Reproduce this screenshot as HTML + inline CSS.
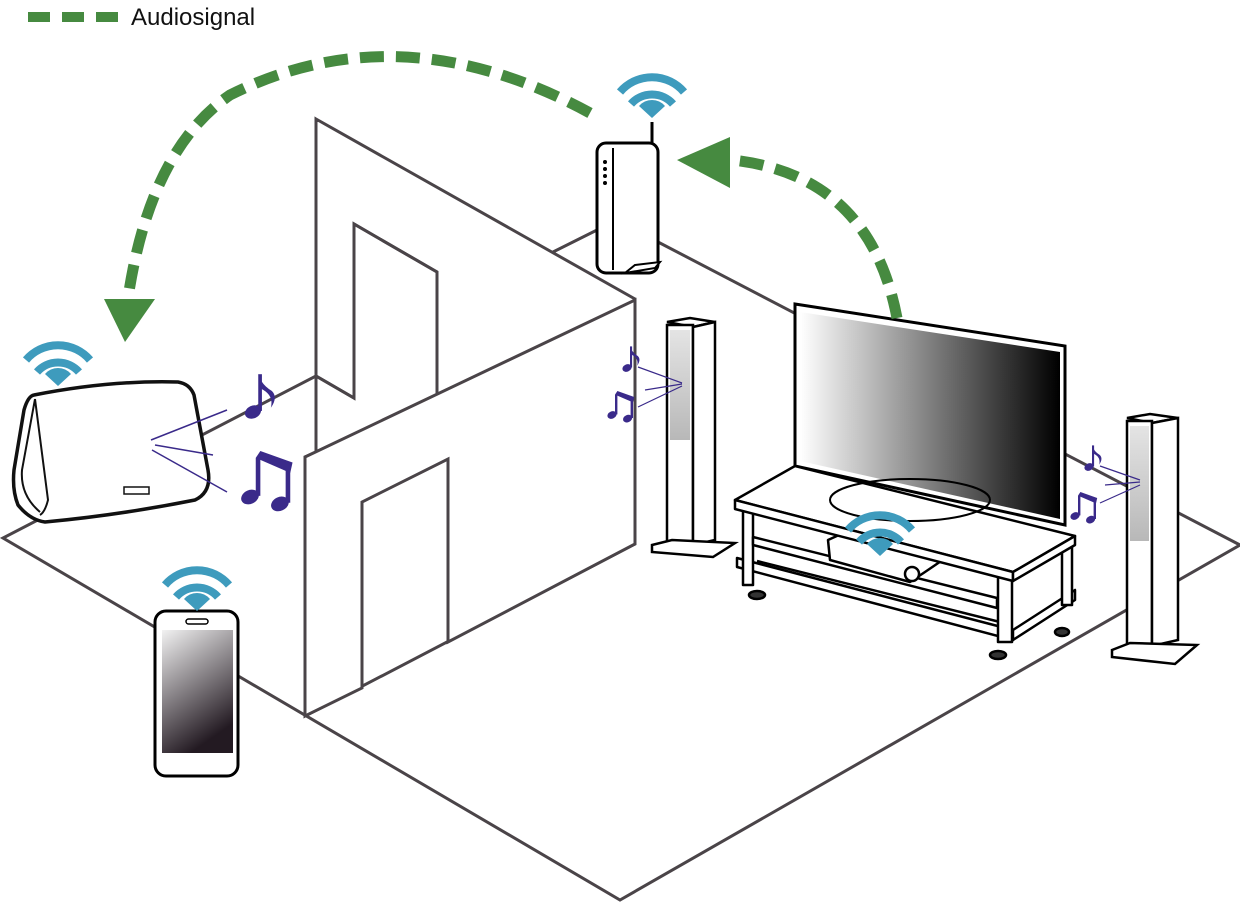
<!DOCTYPE html>
<html><head><meta charset="utf-8"><style>
html,body{margin:0;padding:0;background:#fff;width:1240px;height:902px;overflow:hidden}
svg{display:block}
</style></head><body>
<svg width="1240" height="902" viewBox="0 0 1240 902" xmlns="http://www.w3.org/2000/svg">
<defs>
<linearGradient id="tv" x1="0" x2="1" y1="0" y2="0"><stop offset="0" stop-color="#fff"/><stop offset="1" stop-color="#000"/></linearGradient>
<linearGradient id="ph" x1="0" x2="0.4" y1="0" y2="1"><stop offset="0" stop-color="#f2f2f2"/><stop offset="1" stop-color="#231a22"/></linearGradient>
<linearGradient id="sp" x1="0" x2="0" y1="0" y2="1"><stop offset="0" stop-color="#e4e4e4"/><stop offset="1" stop-color="#b8b8b8"/></linearGradient>
<g id="wifi">
<path d="M-32,-26 A42,42 0 0 1 32,-26" fill="none" stroke="#3e9bbd" stroke-width="8"/>
<path d="M-21,-14 A28,28 0 0 1 21,-14" fill="none" stroke="#3e9bbd" stroke-width="8"/>
<path d="M0,0 L-13,-12 A17,17 0 0 1 13,-12 Z" fill="#3e9bbd"/>
</g>
<g id="n1" fill="#3a2a8a">
<ellipse cx="0" cy="0" rx="8" ry="6" transform="rotate(-25)"/>
<rect x="5" y="-36" width="3.5" height="35"/>
<path d="M5,-36 Q8,-26 18,-20 Q24,-14 17,-4 Q20,-16 8,-22 Z"/>
</g>
<g id="n2" fill="#3a2a8a">
<ellipse cx="0" cy="0" rx="8" ry="6" transform="rotate(-25)"/>
<ellipse cx="26" cy="6" rx="8" ry="6" transform="rotate(-25 26 6)"/>
<rect x="5" y="-34" width="4" height="33"/>
<rect x="31" y="-27" width="4" height="32"/>
<polygon points="5,-34 9,-40 37,-30 35,-21"/>
</g>
</defs>

<!-- legend -->
<g stroke="#468a40" stroke-width="10">
<line x1="28" y1="17" x2="50" y2="17"/><line x1="62" y1="17" x2="84" y2="17"/><line x1="96" y1="17" x2="118" y2="17"/>
</g>
<text x="131" y="25" font-family="Liberation Sans, sans-serif" font-size="24" fill="#111">Audiosignal</text>

<!-- floor -->
<g fill="none" stroke="#4a4448" stroke-width="3" stroke-linejoin="miter">
<polyline points="316,376 3,538 620,900 1240,545"/>
<line x1="553" y1="252" x2="597" y2="230"/>
<line x1="658" y1="242" x2="1240" y2="545"/>
</g>
<!-- wall -->
<g fill="#fff" stroke="#4a4448" stroke-width="3" stroke-linejoin="miter">
<polygon points="316,119 635,299 635,544 305,716 305,457 316,452 316,376 354,398 354,224 437,272 437,395 316,452"/>
<polyline points="316,119 316,376 354,398 354,224 437,272 437,395" fill="none"/>
<polygon points="305,457 635,300 635,544 448,642 448,459 362,502 362,688 305,716" fill="#fff"/>
</g>

<!-- router -->
<line x1="652" y1="122" x2="652" y2="160" stroke="#000" stroke-width="3"/>
<rect x="597" y="143" width="61" height="130" rx="9" fill="#fff" stroke="#000" stroke-width="3"/>
<line x1="613" y1="148" x2="613" y2="270" stroke="#000" stroke-width="2"/>
<g fill="#000"><circle cx="605" cy="162" r="2"/><circle cx="605" cy="169" r="2"/><circle cx="605" cy="176" r="2"/><circle cx="605" cy="183" r="2"/></g>
<path d="M625,273 L655,268 L660,262 L635,265 Z" fill="#fff" stroke="#000" stroke-width="2"/>
<use href="#wifi" x="652" y="118"/>

<!-- left tower speaker -->
<polygon points="667,322 690,318 715,322 693,327" fill="#fff" stroke="#000" stroke-width="2.5"/>
<rect x="667" y="325" width="26" height="220" fill="#fff" stroke="#000" stroke-width="2.5"/>
<polygon points="693,327 715,322 715,540 693,545" fill="#fff" stroke="#000" stroke-width="2.5"/>
<rect x="670" y="330" width="20" height="110" fill="url(#sp)"/>
<polygon points="652,545 672,540 735,543 713,557 652,552" fill="#fff" stroke="#000" stroke-width="2.5"/>
<g stroke="#3a2a8a" stroke-width="1.2"><line x1="638" y1="367" x2="682" y2="383"/><line x1="645" y1="390" x2="682" y2="384"/><line x1="638" y1="407" x2="682" y2="386"/></g>
<use href="#n1" transform="translate(627,368) scale(0.6)"/>
<use href="#n2" transform="translate(612,415) scale(0.6)"/>

<!-- TV -->
<polygon points="795,304 1065,346 1065,525 795,466" fill="#fff" stroke="#000" stroke-width="3"/>
<polygon points="800,312 1060,352 1060,519 800,461" fill="url(#tv)"/>

<!-- TV stand -->
<g fill="#fff" stroke="#000" stroke-width="2.5" stroke-linejoin="round">
<polygon points="737,567 1013,640 1013,630 737,558"/>
<polygon points="1013,630 1075,590 1075,600 1013,640"/>
<line x1="757" y1="561" x2="1000" y2="622"/>
<rect x="743" y="510" width="10" height="75"/>
<rect x="998" y="572" width="14" height="70"/>
<rect x="1062" y="545" width="10" height="60"/>
<ellipse cx="757" cy="595" rx="8" ry="4" fill="#333"/>
<ellipse cx="998" cy="655" rx="8" ry="4" fill="#333"/>
<ellipse cx="1062" cy="632" rx="7" ry="4" fill="#333"/>
<polygon points="753,545 997,608 997,598 753,537"/>
<polygon points="828,540 850,530 950,555 925,572 910,582 830,560"/>
<circle cx="912" cy="574" r="7"/>
<polygon points="735,500 795,466 1075,536 1013,572"/>
<polygon points="735,500 1013,572 1013,581 735,509"/>
<polygon points="1013,572 1075,536 1075,545 1013,581"/>
<ellipse cx="910" cy="500" rx="80" ry="21" fill="none" stroke-width="2"/>
</g>
<use href="#wifi" x="880" y="556"/>

<!-- right tower speaker -->
<polygon points="1127,418 1150,414 1178,418 1152,423" fill="#fff" stroke="#000" stroke-width="2.5"/>
<rect x="1127" y="421" width="25" height="225" fill="#fff" stroke="#000" stroke-width="2.5"/>
<polygon points="1152,423 1178,418 1178,640 1152,646" fill="#fff" stroke="#000" stroke-width="2.5"/>
<rect x="1130" y="426" width="19" height="115" fill="url(#sp)"/>
<polygon points="1112,650 1130,643 1197,645 1175,664 1112,657" fill="#fff" stroke="#000" stroke-width="2.5"/>
<g stroke="#3a2a8a" stroke-width="1.2"><line x1="1100" y1="466" x2="1140" y2="480"/><line x1="1105" y1="485" x2="1140" y2="482"/><line x1="1100" y1="503" x2="1140" y2="485"/></g>
<use href="#n1" transform="translate(1089,467) scale(0.6)"/>
<use href="#n2" transform="translate(1075,516) scale(0.6)"/>

<!-- left wireless speaker -->
<path d="M34,395 Q110,380 178,382 Q190,384 194,395 L208,470 Q212,492 195,500 Q120,515 45,522 Q30,520 18,505 Q12,490 14,470 L24,410 Q28,396 34,395 Z" fill="#fff" stroke="#111" stroke-width="3.5"/>
<path d="M35,399 L48,500 Q45,512 40,515 M35,399 L22,470 Q20,495 40,512" fill="none" stroke="#111" stroke-width="2"/>
<rect x="124" y="487" width="25" height="7" fill="#fff" stroke="#111" stroke-width="1.5"/>
<g stroke="#3a2a8a" stroke-width="1.5"><line x1="151" y1="440" x2="227" y2="410"/><line x1="155" y1="445" x2="213" y2="455"/><line x1="152" y1="450" x2="227" y2="492"/></g>
<use href="#n1" transform="translate(253,412) scale(1.05)"/>
<use href="#n2" transform="translate(250,497) scale(1.15)"/>
<use href="#wifi" x="58" y="386"/>

<!-- phone -->
<rect x="155" y="611" width="83" height="165" rx="11" fill="#fff" stroke="#000" stroke-width="3"/>
<rect x="162" y="630" width="71" height="123" fill="url(#ph)"/>
<rect x="186" y="619" width="22" height="5" rx="2.5" fill="none" stroke="#000" stroke-width="1.5"/>
<use href="#wifi" x="197" y="611"/>

<!-- green arcs -->
<path d="M590,113 Q400,10 230,95 Q150,150 128,298" fill="none" stroke="#468a40" stroke-width="11" stroke-dasharray="24 12"/>
<polygon points="104,299 155,299 125,342" fill="#468a40"/>
<path d="M897,318 Q870,175 732,160" fill="none" stroke="#468a40" stroke-width="11" stroke-dasharray="24 12"/>
<polygon points="677,160 730,137 730,188" fill="#468a40"/>
</svg>
</body></html>
